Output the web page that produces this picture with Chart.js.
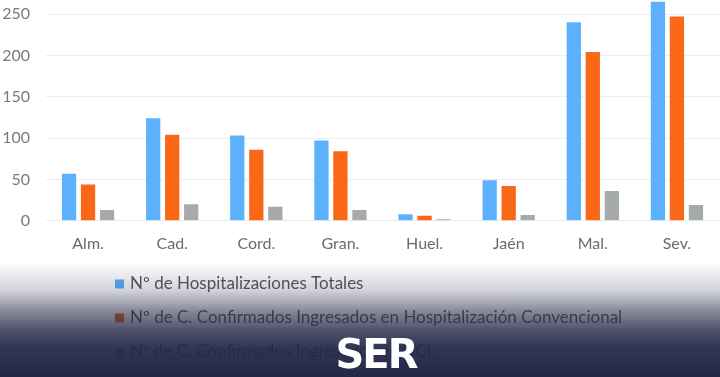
<!DOCTYPE html>
<html><head><meta charset="utf-8">
<script src="https://cdn.jsdelivr.net/npm/chart.js@4"></script>
<style>
html,body{margin:0;padding:0;background:#fff;}
#wrap{position:relative;width:720px;height:377px;overflow:hidden;background:#fff;}
#c{position:absolute;left:0;top:0;}
#shade{position:absolute;left:0;top:262px;width:720px;height:115px;pointer-events:none;
background:linear-gradient(to bottom, rgba(35,39,70,0) 0px, rgba(35,39,70,0.2) 28px, rgba(35,39,70,0.53) 48px, rgba(35,39,70,0.8) 68px, rgba(35,39,70,0.93) 85px, rgba(35,39,70,1) 115px);}
#logo{position:absolute;left:320px;top:334px;width:112px;text-align:center;color:#fff;font-family:"DejaVu Sans";font-weight:bold;font-size:40px;line-height:40px;letter-spacing:-2px;}
</style></head>
<body>
<div id="wrap">
<canvas id="c" width="720" height="377"></canvas>
<div id="shade"></div>
<div id="logo">SER</div>
</div>
<script>
const categories = ["Alm.", "Cad.", "Cord.", "Gran.", "Huel.", "Jaén", "Mal.", "Sev."];
const seriesNames = [
  "Nº de Hospitalizaciones Totales",
  "Nº de C. Confirmados Ingresados en Hospitalización Convencional",
  "Nª de C. Confirmados Ingresados en UCI."
];
const hospTotales = [57, 124, 103, 97, 8, 49, 240, 265];
const hospConvencional = [44, 104, 86, 84, 6, 42, 204, 247];
const uci = [13, 20, 17, 13, 2, 7, 36, 19];
const yTicks = [0, 50, 100, 150, 200, 250];

const colors = ["#5db0fb", "#fa6716", "#a6aaa9"];
const legendRowY = [284, 318, 352];

const vlegend = {
  id: 'vlegend',
  afterDraw(chart) {
    const ctx = chart.ctx;
    ctx.save();
    ctx.font = '17px Lato';
    ctx.textBaseline = 'middle';
    ctx.textAlign = 'left';
    chart.data.datasets.forEach((ds, i) => {
      const y = legendRowY[i];
      ctx.fillStyle = ds.backgroundColor;
      ctx.fillRect(115, y - 4.5, 9, 9);
      ctx.fillStyle = '#595959';
      ctx.fillText(ds.label, 130, y);
    });
    ctx.restore();
  }
};

new Chart(document.getElementById('c'), {
  type: 'bar',
  data: {
    labels: categories,
    datasets: [
      { label: seriesNames[0], data: hospTotales, backgroundColor: colors[0] },
      { label: seriesNames[1], data: hospConvencional, backgroundColor: colors[1] },
      { label: seriesNames[2], data: uci, backgroundColor: colors[2] }
    ]
  },
  options: {
    responsive: false,
    animation: false,
    devicePixelRatio: 1,
    categoryPercentage: 0.678,
    barPercentage: 0.75,
    layout: { padding: { top: 0, left: 0, right: 1, bottom: 111 } },
    plugins: { legend: { display: false }, tooltip: { enabled: false } },
    scales: {
      x: {
        grid: { display: false, drawTicks: false },
        border: { display: false },
        ticks: { color: '#6b6b6b', font: { family: 'Lato', size: 16 }, padding: 13, maxRotation: 0 }
      },
      y: {
        min: 0,
        max: 267,
        grid: { color: '#ececec', lineWidth: 1, drawTicks: false },
        border: { display: false },
        ticks: { stepSize: 50, color: '#7a7a7a', font: { family: 'Lato', size: 16 }, padding: 16 },
        afterBuildTicks(axis) {
          axis.ticks = yTicks.map(v => ({ value: v }));
        },
        afterFit(scale) {
          scale.width = 46;
          scale.paddingTop = 0;
          scale.paddingBottom = 0;
        }
      }
    }
  },
  plugins: [vlegend]
});
</script>
</body></html>
